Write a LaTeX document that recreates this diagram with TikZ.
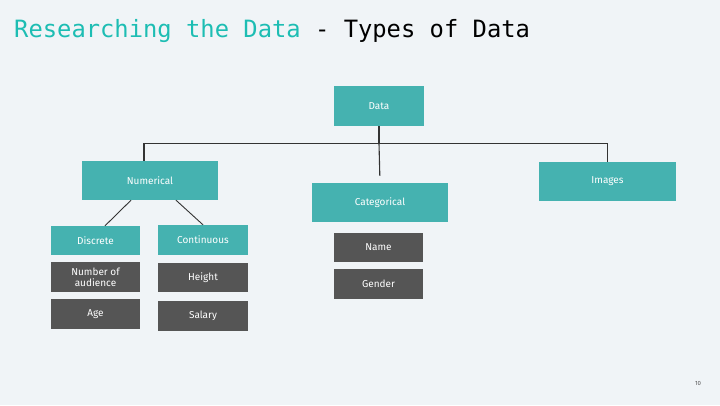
\documentclass[tikz,border=0pt]{standalone}
\usepackage{fontspec}
\setmainfont{Fira Sans}
\newfontfamily\titlefont{DejaVu Sans Mono}
\definecolor{bgc}{HTML}{F0F4F7}
\definecolor{tealbox}{HTML}{45B2B0}
\definecolor{tealtitle}{HTML}{1DBDB3}
\definecolor{darkbox}{HTML}{555555}
\definecolor{linec}{HTML}{333333}
\begin{document}
\begin{tikzpicture}[x=1pt,y=-1pt,
  tbox/.style={fill=tealbox,text=white,font=\fontsize{10}{11}\selectfont,inner sep=0pt,align=center},
  gbox/.style={fill=darkbox,text=white,font=\fontsize{10}{11}\selectfont,inner sep=0pt,align=center},
  conn/.style={draw=linec,line width=1.1pt}]
\fill[bgc] (0,0) rectangle (720,405);
\useasboundingbox (0,0) rectangle (720,405);
\node[anchor=base west,inner sep=0pt,font=\titlefont\fontsize{23.8}{26}\selectfont] (title) at (14,37)
  {\textcolor{tealtitle}{Researching the Data} - Types of Data};
\node[tbox,minimum width=90pt,minimum height=40pt] (data) at (379,106) {Data};
\node[tbox,minimum width=136pt,minimum height=39pt] (num) at (150,180.5) {Numerical};
\node[tbox,minimum width=136pt,minimum height=39pt] (cat) at (380,202.5) {Categorical};
\node[tbox,minimum width=137pt,minimum height=39pt] (img) at (607.5,181.5) {Images};
\node[tbox,minimum width=89pt,minimum height=29pt] (disc) at (95.5,240.5) {Discrete};
\node[tbox,minimum width=90pt,minimum height=30pt] (cont) at (203,240) {Continuous};
\node[gbox,minimum width=89pt,minimum height=30pt] (aud) at (95.5,277) {Number of\\audience};
\node[gbox,minimum width=89pt,minimum height=30pt] (age) at (95.5,314) {Age};
\node[gbox,minimum width=90pt,minimum height=29pt] (height) at (203,277.5) {Height};
\node[gbox,minimum width=90pt,minimum height=30pt] (salary) at (203,316) {Salary};
\node[gbox,minimum width=89pt,minimum height=29pt] (name) at (378.5,247.5) {Name};
\node[gbox,minimum width=89pt,minimum height=30pt] (gender) at (378.5,284) {Gender};
\node[font=\fontsize{6}{7}\selectfont,text=darkbox,inner sep=0pt] (page) at (698,383) {10};
\coordinate (bus) at (379,143.5);
\draw[conn] (data.south) -- (bus);
\draw[conn] ([xshift=-6pt]num.north) |- (bus) -| (img.north);
\draw[conn,shorten >=7pt] (bus) -- (cat.north);
\draw[conn,line width=0.9pt] ([xshift=-19pt]num.south) -- ([xshift=9.5pt]disc.north);
\draw[conn,line width=0.9pt] ([xshift=26pt]num.south) -- (cont.north);
\end{tikzpicture}
\end{document}
